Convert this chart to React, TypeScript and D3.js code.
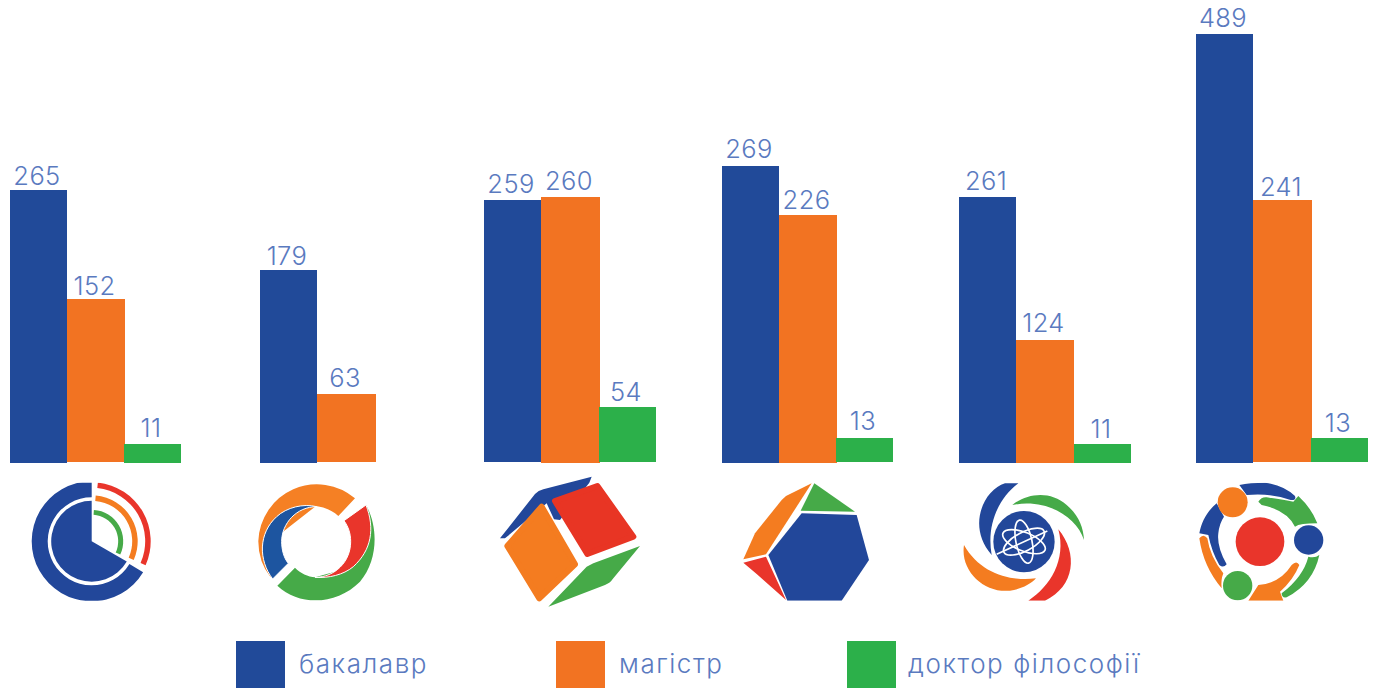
import React from "react";
import * as d3 from "d3";

// Printed labels
const institutes = ["A", "B", "C", "D", "E", "F"];
const bachelorLabels = [265, 179, 259, 269, 261, 489];
const masterLabels = [152, 63, 260, 226, 124, 241];
const phdLabels: (number | null)[] = [11, null, 54, 13, 11, 13];
// Drawn bar heights (the source bars are not proportional to their labels)
const bachelorHeights = [273, 193, 263, 297, 266, 429];
const masterHeights = [164, 69, 266, 248, 123, 263];
const phdHeights: (number | null)[] = [19, null, 56, 25, 19, 25];
const seriesNames = ["бакалавр", "магістр", "доктор філософії"];
const seriesColors = ["#214a99", "#f27322", "#2cb04a"];

// Layout
const groupStarts = [10, 260, 484, 722, 959, 1196];
const masterWidths = [58, 59, 59, 58, 58, 59];
const phdOffsets = [114, 114, 115, 114, 115, 115];
const labelGaps = [
  [5, 4.5, 7],
  [5, 7, 0],
  [7, 7, 6.5],
  [8, 6.5, 8],
  [7, 8, 6],
  [7, 4.5, 5.7],
];
const bottoms = [
  [463, 462, 463],
  [463, 462, 463],
  [462, 463, 462],
  [463, 463, 462],
  [463, 463, 463],
  [463, 462, 462],
];
const legendRects = [236, 556, 847];
const legendTexts = [299, 619, 908];
const TEXT = "#5a7abf";
const FONT = "Inter, sans-serif";
const R = "#e9352b", O = "#f47c20", G = "#46aa48", B = "#22479a";

const x = d3.scaleOrdinal<string, number>().domain(institutes).range(groupStarts);
const h = d3.scaleLinear().domain([0, 429]).range([0, 429]);

const arc = d3.arc<any>();
const deg = (a: number) => (a * Math.PI) / 180;

function Logo1() {
  const s = (r0: number, r1: number, a0: number, a1: number, c: string) => (
    <path d={arc({ innerRadius: r0, outerRadius: r1, startAngle: deg(a0), endAngle: deg(a1) }) as string} fill={c} />
  );
  return (
    <g transform="translate(91.7,541.3)">
      {s(44, 60, 121, 360, B)}
      {s(0, 40.5, 120, 360, B)}
      {s(53.5, 59, 6, 114, R)}
      {s(40.5, 46, 5, 114, O)}
      {s(26.5, 31.5, 4, 115, G)}
    </g>
  );
}

function Logo2() {
  return (
    <g transform="translate(0,470) scale(0.33333)">
      <path d="M832,347 L885,293 C900,310 925,320 945,322 L1060,290 L1098,105 C1135,170 1135,270 1080,335 C1010,405 900,410 832,347 Z" fill={G} />
      <path d="M1032,152 L1098,105 C1125,175 1115,240 1060,290 C1030,315 985,325 945,322 C1005,322 1052,275 1052,215 C1052,190 1045,170 1032,152 Z" fill={R} stroke="#fff" strokeWidth="3" />
      <path d="M812,322 A176,176 0 0 1 775,213 A176,176 0 0 1 1065,85 L1015,138 C995,120 975,112 948,108 L830,200 Z" fill="#f58024" />
      <path d="M818,327 C775,270 775,190 830,140 C860,112 910,100 950,110 C890,110 845,160 845,215 C845,240 852,265 865,280 Z" fill="#1d55a0" stroke="#fff" strokeWidth="3" />
    </g>
  );
}

function Logo3() {
  const red = "M352,48 L460,200 L322,252 L225,93 Z";
  const orange = "M185,110 L285,283 L178,385 L82,228 Z";
  return (
    <g transform="translate(480,470) scale(0.33333)" strokeLinejoin="round">
      <path d={red} fill="#fff" stroke="#fff" strokeWidth="26" />
      <path d={orange} fill="#fff" stroke="#fff" strokeWidth="28" />
      <path d="M60,205 L165,72 Q175,62 190,58 L335,20 L328,38 L240,150 L222,148 L200,100 L75,205 Z" fill={B} />
      <path d={red} fill="#e83524" stroke="#e83524" strokeWidth="18" />
      <path d={orange} fill={O} stroke={O} strokeWidth="18" />
      <path d="M480,228 L400,325 Q390,340 375,345 L205,410 L320,290 Q330,285 340,280 Z" fill={G} />
    </g>
  );
}

function Logo4() {
  return (
    <g transform="translate(480,470) scale(0.33333)">
      <path d="M995,40 L918,78 L905,90 L825,190 L790,268 L858,253 Z" fill={O} />
      <path d="M1003,40 L1125,125 L962,122 Z" fill={G} />
      <path d="M965,130 L1130,135 L1167,270 L1085,392 L922,392 L865,255 Z" fill={B} />
      <path d="M790,278 L858,260 L918,390 L830,312 Z" fill={R} />
    </g>
  );
}

function Logo5() {
  return (
    <g transform="translate(950,470) scale(0.33333)">
      <path d="M205,40 L165,40 C100,60 50,170 125,255 C110,170 140,90 205,40 Z" fill={B} />
      <path d="M187,105 C230,70 300,60 350,105 C385,135 400,170 402,210 C380,140 290,85 187,105 Z" fill={G} />
      <path d="M325,178 C385,250 375,350 285,392 L235,392 C300,350 350,270 325,178 Z" fill={R} />
      <path d="M42,225 C30,300 100,370 180,362 C210,358 240,345 258,325 C180,335 90,310 42,225 Z" fill={O} />
      <circle cx="222" cy="215" r="92" fill={B} />
      <g fill="none" stroke="#fff" strokeWidth="5" transform="translate(222,215)">
        <ellipse rx="68" ry="28" transform="rotate(22)" />
        <ellipse rx="68" ry="28" transform="rotate(-28)" />
        <ellipse rx="24" ry="66" transform="rotate(-12)" />
        <path d="M-82,38 L70,-32" />
      </g>
    </g>
  );
}

function Logo6() {
  return (
    <g transform="translate(950,470) scale(0.33333)">
      <path d="M868,45 Q900,38 945,38 Q1000,45 1035,78 Q1040,92 1022,90 Q960,68 890,75 Z" fill={B} />
      <path d="M800,100 C770,125 755,155 748,190 L775,195 Q785,245 808,285 Q820,295 830,283 Q800,230 805,190 Q808,160 822,140 Z" fill={B} />
      <path d="M748,205 Q760,190 772,205 Q780,260 820,310 Q812,330 815,355 Q760,290 748,205 Z" fill={O} />
      <path d="M895,392 L925,345 Q990,340 1025,285 Q1040,270 1048,285 Q1030,330 990,365 L1000,392 Z" fill={O} />
      <path d="M925,95 Q935,80 950,82 Q1000,90 1030,95 L1045,78 Q1085,115 1102,160 Q1050,160 1035,170 Q1010,120 935,105 Z" fill={G} />
      <path d="M1108,255 Q1090,340 1010,382 Q995,385 995,370 Q1060,320 1075,260 Q1095,265 1108,255 Z" fill={G} />
      <circle cx="930" cy="215" r="73" fill={R} />
      <circle cx="848" cy="97" r="45" fill={O} />
      <circle cx="1076" cy="210" r="44" fill={B} />
      <circle cx="863" cy="347" r="44" fill={G} />
    </g>
  );
}

export default function App() {
  const labels = [bachelorLabels, masterLabels, phdLabels];
  const heights = [bachelorHeights, masterHeights, phdHeights];
  const barX = (s: number, i: number) =>
    (x(institutes[i]) as number) + (s === 0 ? 0 : s === 1 ? 57 : phdOffsets[i]);
  const barW = (s: number, i: number) => (s === 1 ? masterWidths[i] : 57);
  return (
    <svg width={1377} height={688} style={{ position: "absolute", left: 0, top: 0, background: "#fff" }}>
      <defs>
        <clipPath id="logos"><rect x={0} y={482.7} width={1377} height={118} /></clipPath>
      </defs>
      {[1, 0, 2].map((s) =>
        institutes.map((_, i) => {
          const v = heights[s][i];
          if (v == null) return null;
          const top = 463 - h(v);
          return (
            <rect key={`${s}-${i}`} x={barX(s, i)} y={top} width={barW(s, i)} height={bottoms[i][s] - top} fill={seriesColors[s]} />
          );
        })
      )}
      {labels.map((vals, s) =>
        institutes.map((_, i) => {
          const v = vals[i];
          const hv = heights[s][i];
          if (v == null || hv == null) return null;
          return (
            <text key={`${s}-${i}`} x={barX(s, i) + barW(s, i) / 2 - 1.5} y={463 - h(hv) - labelGaps[i][s]} textAnchor="middle"
              fontFamily={FONT} fontWeight={300} fontSize={25.5} letterSpacing={0.4} fill={TEXT}>{v}</text>
          );
        })
      )}
      <g clipPath="url(#logos)">
        <Logo1 /><Logo2 /><Logo4 /><Logo5 /><Logo6 />
      </g>
      <Logo3 />
      {seriesNames.map((n, i) => (
        <g key={n}>
          <rect x={legendRects[i]} y={641} width={49} height={47} fill={seriesColors[i]} />
          <text x={legendTexts[i]} y={673} fontFamily={FONT} fontWeight={300} fontSize={26} letterSpacing={1.55} fill={TEXT}>{n}</text>
        </g>
      ))}
    </svg>
  );
}
